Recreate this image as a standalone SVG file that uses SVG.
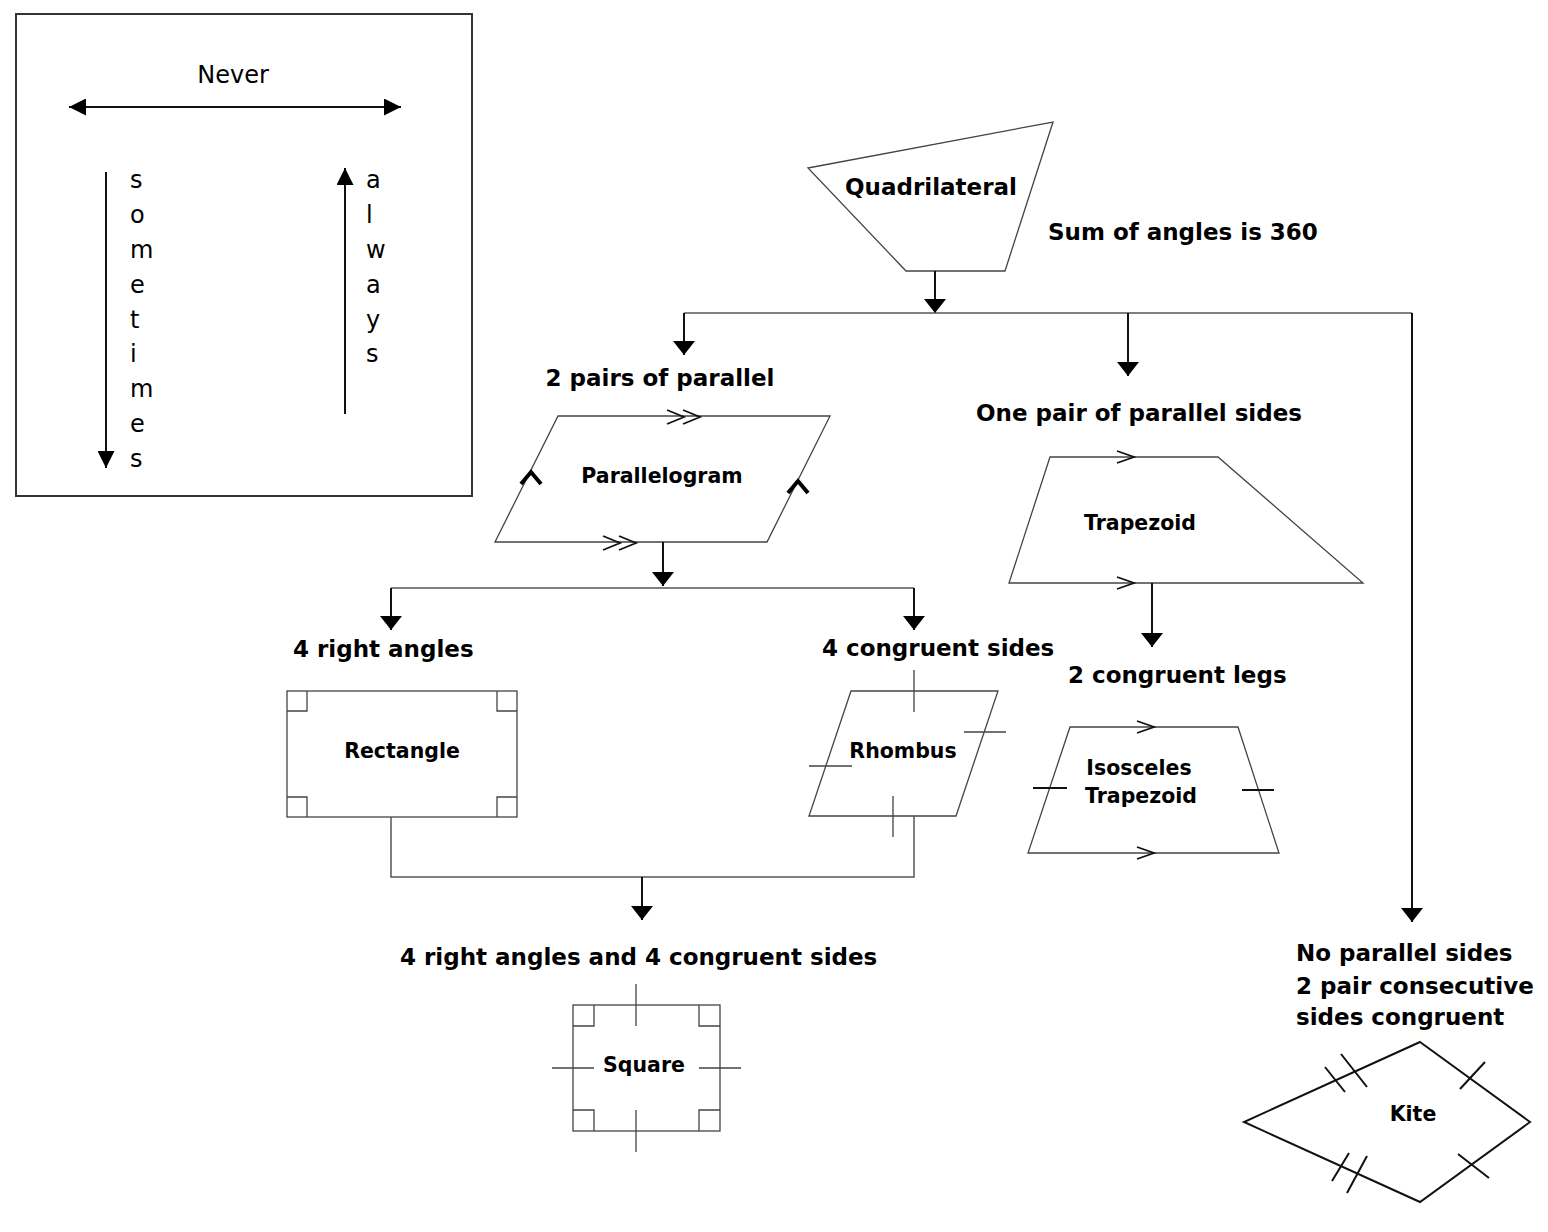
<svg xmlns="http://www.w3.org/2000/svg" width="1548" height="1232" viewBox="0 0 1548 1232">
<defs>
<style>
.shape{fill:none;stroke:#444;stroke-width:1.3}
.mark{fill:none;stroke:#111;stroke-width:1.8}
.bold{font-family:"DejaVu Sans",Verdana,sans-serif;font-weight:bold;fill:#000}
.lbl{font-size:23px}
.sl{font-size:20.5px}
.leg{font-family:"DejaVu Sans",Verdana,sans-serif;font-size:24px;fill:#000}
.arrow{fill:none;stroke:#111;stroke-width:2}
.line{fill:none;stroke:#555;stroke-width:1.5}
.larrow{fill:none;stroke:#111;stroke-width:2}
</style>
<marker id="ah" viewBox="0 0 14 22" refX="14" refY="11" markerWidth="14" markerHeight="22" markerUnits="userSpaceOnUse" orient="auto">
<path d="M0,0 L14,11 L0,22 z" fill="#000"/>
</marker>
<marker id="lh" viewBox="0 0 17 17" refX="17" refY="8.5" markerWidth="17" markerHeight="17" markerUnits="userSpaceOnUse" orient="auto-start-reverse">
<path d="M0,0 L17,8.5 L0,17 z" fill="#000"/>
</marker>
</defs>
<rect width="1548" height="1232" fill="#fff"/>

<g id="legend">
<rect x="16" y="14" width="456" height="482" fill="none" stroke="#333" stroke-width="2"/>
<text class="leg" x="233" y="83" text-anchor="middle">Never</text>
<line class="larrow" x1="69" y1="107" x2="401" y2="107" marker-start="url(#lh)" marker-end="url(#lh)"/>
<line class="larrow" x1="106" y1="172" x2="106" y2="468" marker-end="url(#lh)"/>
<line class="larrow" x1="345" y1="414" x2="345" y2="168" marker-end="url(#lh)"/>
<g class="leg">
<text x="130" y="188">s</text>
<text x="130" y="223">o</text>
<text x="130" y="258">m</text>
<text x="130" y="293">e</text>
<text x="130" y="328">t</text>
<text x="130" y="362">i</text>
<text x="130" y="397">m</text>
<text x="130" y="432">e</text>
<text x="130" y="467">s</text>
<text x="366" y="188">a</text>
<text x="366" y="223">l</text>
<text x="366" y="258">w</text>
<text x="366" y="293">a</text>
<text x="366" y="328">y</text>
<text x="366" y="362">s</text>
</g>
</g>

<g id="quadrilateral">
<polygon class="shape" points="808,168 1053,122 1005,271 906,271"/>
<text class="bold lbl" x="931" y="195" text-anchor="middle">Quadrilateral</text>
<text class="bold lbl" x="1048" y="240">Sum of angles is 360</text>
</g>

<g id="parallelogram">
<text class="bold lbl" x="660" y="386" text-anchor="middle">2 pairs of parallel</text>
<polygon class="shape" points="558,416 830,416 767,542 495,542"/>
<polyline class="mark" points="667,410 684,417 667,424"/>
<polyline class="mark" points="683,410 700,417 683,424"/>
<polyline class="mark" points="603,536 620,543 603,550"/>
<polyline class="mark" points="619,536 636,543 619,550"/>
<polyline fill="none" stroke="#000" stroke-width="4" points="521,484 531,472 541,484"/>
<polyline fill="none" stroke="#000" stroke-width="4" points="788,493 798,481 808,493"/>
<text class="bold sl" x="662" y="483" text-anchor="middle">Parallelogram</text>
</g>

<g id="trapezoid">
<text class="bold lbl" x="1139" y="421" text-anchor="middle">One pair of parallel sides</text>
<polygon class="shape" points="1050,457 1218,457 1363,583 1009,583"/>
<polyline class="mark" points="1117,451 1134,457 1117,463"/>
<polyline class="mark" points="1117,577 1134,583 1117,589"/>
<text class="bold sl" x="1140" y="530" text-anchor="middle">Trapezoid</text>
</g>

<g id="rectangle">
<text class="bold lbl" x="293" y="657">4 right angles</text>
<rect class="shape" x="287" y="691" width="230" height="126"/>
<path class="shape" d="M287,711 H307 V691 M497,691 V711 H517 M287,797 H307 V817 M497,817 V797 H517"/>
<text class="bold sl" x="402" y="758" text-anchor="middle">Rectangle</text>
</g>

<g id="rhombus">
<text class="bold lbl" x="822" y="656">4 congruent sides</text>
<polygon class="shape" points="851,691 998,691 956,816 809,816"/>
<path class="shape" d="M914,670 V712 M964,732 H1006 M809,766 H852 M893,796 V837"/>
<text class="bold sl" x="903" y="758" text-anchor="middle">Rhombus</text>
</g>

<g id="isosceles-trapezoid">
<text class="bold lbl" x="1068" y="683">2 congruent legs</text>
<polygon class="shape" points="1070,727 1238,727 1279,853 1028,853"/>
<polyline class="mark" points="1137,721 1154,727 1137,733"/>
<polyline class="mark" points="1137,847 1154,853 1137,859"/>
<path class="mark" d="M1033,788 H1067 M1242,790 H1274"/>
<text class="bold sl" x="1139" y="775" text-anchor="middle">Isosceles</text>
<text class="bold sl" x="1141" y="803" text-anchor="middle">Trapezoid</text>
</g>

<g id="square">
<text class="bold lbl" x="400" y="965">4 right angles and 4 congruent sides</text>
<rect class="shape" x="573" y="1005" width="147" height="126"/>
<path class="shape" d="M573,1026 H594 V1005 M699,1005 V1026 H720 M573,1110 H594 V1131 M699,1131 V1110 H720"/>
<path class="shape" d="M636,984 V1026 M636,1110 V1152 M552,1068 H594 M699,1068 H741"/>
<text class="bold sl" x="644" y="1072" text-anchor="middle">Square</text>
</g>

<g id="kite">
<text class="bold lbl" x="1296" y="961">No parallel sides</text>
<text class="bold lbl" x="1296" y="994">2 pair consecutive</text>
<text class="bold lbl" x="1296" y="1025">sides congruent</text>
<polygon fill="none" stroke="#111" stroke-width="2" points="1420,1042 1530,1122 1420,1202 1244,1122"/>
<path fill="none" stroke="#111" stroke-width="2" d="M1325,1067 L1345,1092 M1341,1054 L1367,1087 M1460,1089 L1485,1062 M1332,1181 L1349,1153 M1347,1193 L1367,1156 M1458,1154 L1489,1178"/>
<text class="bold sl" x="1413" y="1121" text-anchor="middle">Kite</text>
</g>

<g id="connectors">
<line class="arrow" x1="935" y1="271" x2="935" y2="313" marker-end="url(#ah)"/>
<polyline class="line" points="684,313 1412,313"/>
<line class="arrow" x1="684" y1="313" x2="684" y2="355" marker-end="url(#ah)"/>
<line class="arrow" x1="1128" y1="313" x2="1128" y2="376" marker-end="url(#ah)"/>
<line class="arrow" x1="1412" y1="313" x2="1412" y2="922" marker-end="url(#ah)"/>
<line class="arrow" x1="663" y1="542" x2="663" y2="586" marker-end="url(#ah)"/>
<polyline class="line" points="391,588 914,588"/>
<line class="arrow" x1="391" y1="588" x2="391" y2="630" marker-end="url(#ah)"/>
<line class="arrow" x1="914" y1="588" x2="914" y2="630" marker-end="url(#ah)"/>
<line class="arrow" x1="1152" y1="583" x2="1152" y2="647" marker-end="url(#ah)"/>
<polyline class="line" points="391,817 391,877 914,877 914,816"/>
<line class="arrow" x1="642" y1="877" x2="642" y2="920" marker-end="url(#ah)"/>
</g>
</svg>
